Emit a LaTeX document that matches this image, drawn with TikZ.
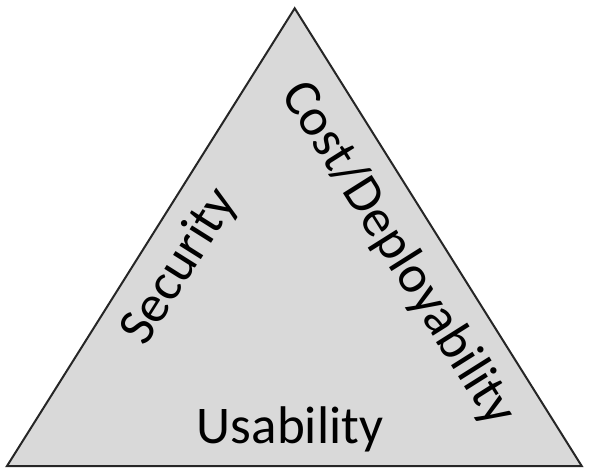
\documentclass[tikz,border=0pt]{standalone}
\usepackage{fontspec}
\setmainfont{Carlito}
\definecolor{trifill}{HTML}{D9D9D9}
\definecolor{triline}{HTML}{262626}
\begin{document}
\begin{tikzpicture}[x=1pt,y=-1pt,
  lbl/.style={font=\fontsize{53}{60}\selectfont, inner sep=0pt, text=black}]
\useasboundingbox (0,0) rectangle (591,469);
\draw[triline, line width=2pt, fill=trifill, line join=miter]
  (294.7,8.3) coordinate (apex) -- (581.7,466) coordinate (br) -- (7,466) coordinate (bl) -- cycle;
\node[lbl, anchor=base] (use) at (290,443) {Usability};
\node[lbl, rotate=57.8] (sec) at (180,267) {Security};
\node[lbl, rotate=-57.8] (cost) at (398,254) {Cost/Deployability};
\end{tikzpicture}
\end{document}
